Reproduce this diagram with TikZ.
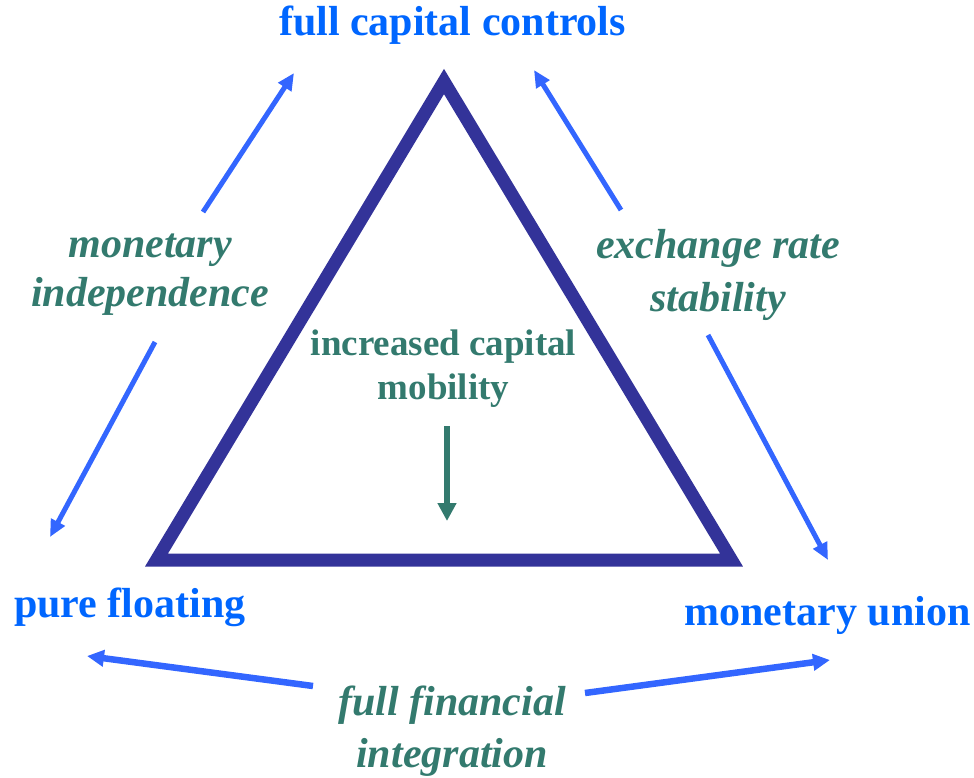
\documentclass[tikz,border=0pt]{standalone}
\usepackage{fontspec}
\setmainfont{Liberation Serif}
\usetikzlibrary{arrows.meta}
\definecolor{cornerblue}{HTML}{0066FF}
\definecolor{arrowblue}{HTML}{3366FF}
\definecolor{labelgreen}{HTML}{337A6E}
\definecolor{trinavy}{HTML}{333399}
\tikzset{
  corner/.style={text=cornerblue, font=\fontsize{42}{50}\selectfont\bfseries, inner sep=0pt, anchor=base},
  sidelabel/.style={text=labelgreen, font=\fontsize{42}{51}\selectfont\bfseries\itshape, inner sep=0pt, anchor=base, align=center},
  midlabel/.style={text=labelgreen, font=\fontsize{37}{44}\selectfont\bfseries, inner sep=0pt, anchor=base, align=center},
  bluearrow/.style={draw=arrowblue, line width=5pt, -{Triangle[length=17pt,width=15pt]}},
  bluearrowthick/.style={draw=arrowblue, line width=6.5pt, -{Triangle[length=17pt,width=16pt]}},
  greenarrow/.style={draw=labelgreen, line width=5.5pt, -{Triangle[length=18pt,width=18pt]}},
  triline/.style={draw=trinavy, line width=13pt, line join=miter}
}
\begin{document}
\begin{tikzpicture}[x=1pt,y=-1pt]
\useasboundingbox (0,0) rectangle (974,777);
% triangle
\coordinate (apex) at (444,81.5);
\coordinate (bl) at (156.5,560);
\coordinate (br) at (731.5,560);
\draw[triline] (apex) -- (bl) -- (br) -- cycle;
% corner labels
\node[corner] (fcc) at (452.5,35) {full capital controls};
\node[corner] (pf) at (130,617) {pure floating};
\node[corner] (mu) at (827.5,625) {monetary union};
% side labels (anchor base = baseline of last line)
\node[sidelabel, font=\fontsize{42}{49}\selectfont\bfseries\itshape] (mi) at (150,306) {monetary\\independence};
\node[sidelabel, font=\fontsize{42}{53}\selectfont\bfseries\itshape] (ers) at (718,311) {exchange rate\\stability};
\node[sidelabel, font=\fontsize{42}{52}\selectfont\bfseries\itshape] (ffi) at (452,767) {full financial\\integration};
\node[midlabel] (icm) at (443.5,399) {increased capital\\mobility};
% arrow end points
\coordinate (a1s) at (203,212);  \coordinate (a1e) at (294,73);
\coordinate (a2s) at (621,210);  \coordinate (a2e) at (534,70);
\coordinate (a3s) at (155,342);  \coordinate (a3e) at (50,537);
\coordinate (a4s) at (708,335);  \coordinate (a4e) at (828,560);
\coordinate (a5s) at (313,686);  \coordinate (a5e) at (87,656);
\coordinate (a6s) at (585,693);  \coordinate (a6e) at (830,660);
\coordinate (gs) at (447,426);   \coordinate (ge) at (447,521);
\draw[bluearrow] (a1s) -- (a1e);
\draw[bluearrow] (a2s) -- (a2e);
\draw[bluearrow] (a3s) -- (a3e);
\draw[bluearrow] (a4s) -- (a4e);
\draw[bluearrowthick] (a5s) -- (a5e);
\draw[bluearrowthick] (a6s) -- (a6e);
\draw[greenarrow] (gs) -- (ge);
\end{tikzpicture}
\end{document}
